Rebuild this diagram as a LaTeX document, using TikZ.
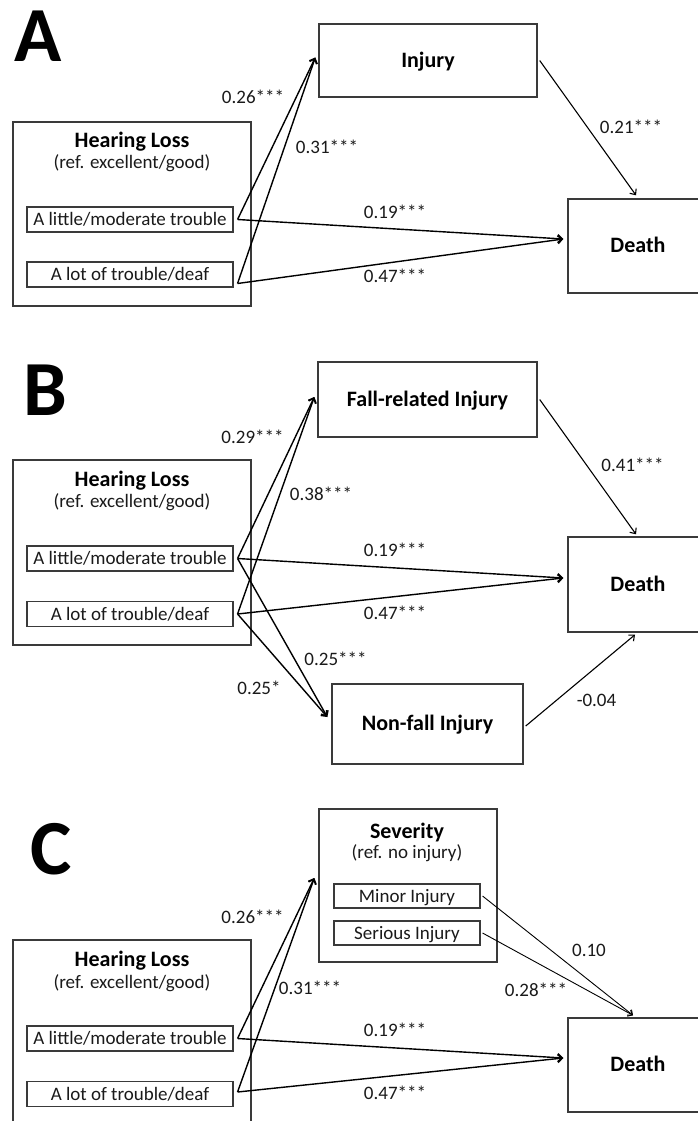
\documentclass[tikz,border=0pt]{standalone}
\usepackage{fontspec}
\setmainfont{Carlito}
\usetikzlibrary{arrows.meta}
\definecolor{boxgray}{HTML}{3A3A3A}
\definecolor{txt}{HTML}{1A1A1A}
\begin{document}
\begin{tikzpicture}[x=1pt,y=-1pt,
  box/.style={draw=boxgray, line width=1.4pt, inner sep=0pt, text=black,
    font=\fontsize{22}{22}\selectfont\bfseries, text height=13.6pt, text depth=0pt},
  sub/.style={draw=boxgray, line width=1.1pt, inner sep=0pt, minimum width=206pt,
    minimum height=25pt, font=\fontsize{19}{19}\selectfont, text height=12.2pt, text depth=0pt, text=txt},
  sev/.style={sub, minimum width=146pt, minimum height=24pt},
  ttl/.style={inner sep=0pt, font=\fontsize{22}{22}\selectfont\bfseries, text height=13.6pt, text depth=0pt},
  ref/.style={inner sep=0pt, font=\fontsize{19}{19}\selectfont, text height=12.2pt, text depth=0pt, text=txt},
  lbl/.style={inner sep=0pt, font=\fontsize{19}{19}\selectfont, text height=12.2pt, text depth=0pt, text=txt},
  big/.style={inner sep=0pt, anchor=base west, font=\fontsize{78}{78}\selectfont\bfseries},
  arr/.style={-{Straight Barb[length=4.5pt,width=8pt]}, line width=1.4pt, black},
  arrthin/.style={-{Straight Barb[length=4.5pt,width=8pt]}, line width=1.1pt, black},
  arrfine/.style={-{Straight Barb[length=4pt,width=7pt]}, line width=0.9pt, black}
]
\useasboundingbox (0,0) rectangle (697,1121);
\fill[white] (0,0) rectangle (697,1121);

% ===================== Panel A =====================
\node[big] (letA) at (14,62) {A};
\node[box, minimum width=238pt, minimum height=184pt] (hlA) at (132,214) {};
\node[ttl] (hlAt) at (132,141) {Hearing Loss};
\node[ref] (hlAr) at (132,162) {(ref. excellent/good)};
\node[sub] (littleA) at (130,219.5) {A little/moderate trouble};
\node[sub] (lotA) at (130,274.5) {A lot of trouble/deaf};
\node[box, minimum width=218pt, minimum height=73pt] (injA) at (428,60.5) {Injury};
\node[box, minimum width=140pt, minimum height=94pt] (deathA) at (638,246) {Death};

\draw[arr] ([xshift=4pt]littleA.east) -- ([xshift=-3pt,yshift=3pt]injA.west);
\draw[arr] ([xshift=4pt,yshift=-9pt]lotA.east) -- ([xshift=-3pt,yshift=3pt]injA.west);
\draw[arr] ([xshift=4pt]littleA.east) -- ([xshift=-4pt,yshift=7pt]deathA.west);
\draw[arr] ([xshift=4pt,yshift=-9pt]lotA.east) -- ([xshift=-4pt,yshift=7pt]deathA.west);
\draw[arrthin] ([xshift=2pt]injA.east) -- ([xshift=-2pt,yshift=3pt]deathA.north);

\node[lbl] (a1) at (253,97) {0.26***};
\node[lbl] (a2) at (327,147) {0.31***};
\node[lbl] (a3) at (631,127) {0.21***};
\node[lbl] (a4) at (395,212) {0.19***};
\node[lbl] (a5) at (395,276) {0.47***};

% ===================== Panel B =====================
\node[big] (letB) at (23,415) {B};
\node[box, minimum width=238pt, minimum height=185pt] (hlB) at (132,552.5) {};
\node[ttl] (hlBt) at (132,480) {Hearing Loss};
\node[ref] (hlBr) at (132,501) {(ref. excellent/good)};
\node[sub] (littleB) at (130,558.5) {A little/moderate trouble};
\node[sub] (lotB) at (130,614) {A lot of trouble/deaf};
\node[box, minimum width=219pt, minimum height=75pt] (fallB) at (427.5,399.5) {Fall-related Injury};
\node[box, minimum width=140pt, minimum height=95pt] (deathB) at (638,584.5) {Death};
\node[box, minimum width=191pt, minimum height=80pt] (nfB) at (427.5,724) {Non-fall Injury};

\draw[arr] ([xshift=4pt]littleB.east) -- ([xshift=-3pt,yshift=2.5pt]fallB.west);
\draw[arr] ([xshift=4pt]lotB.east) -- ([xshift=-3pt,yshift=2.5pt]fallB.west);
\draw[arr] ([xshift=4pt]littleB.east) -- ([xshift=-4pt,yshift=6.5pt]deathB.west);
\draw[arr] ([xshift=4pt]lotB.east) -- ([xshift=-4pt,yshift=6.5pt]deathB.west);
\draw[arr] ([xshift=4pt]littleB.east) -- ([xshift=-4pt,yshift=7pt]nfB.west);
\draw[arr] ([xshift=4pt]lotB.east) -- ([xshift=-4pt,yshift=7pt]nfB.west);
\draw[arrthin] ([xshift=2pt]fallB.east) -- ([xshift=-2pt,yshift=2pt]deathB.north);
\draw[arrthin] ([xshift=2pt,yshift=-2pt]nfB.east) -- ([xshift=-3pt,yshift=-2pt]deathB.south);

\node[lbl] (b1) at (252.5,437) {0.29***};
\node[lbl] (b2) at (321,494) {0.38***};
\node[lbl] (b3) at (335.5,659) {0.25***};
\node[lbl] (b4) at (259,688) {0.25*};
\node[lbl] (b5) at (632.5,465) {0.41***};
\node[lbl] (b6) at (395,550) {0.19***};
\node[lbl] (b7) at (395,613) {0.47***};
\node[lbl] (b8) at (596.5,700) {-0.04};

% ===================== Panel C =====================
\node[big] (letC) at (30,874) {C};
\node[box, minimum width=238pt, minimum height=200pt] (hlC) at (132,1040) {};
\node[ttl] (hlCt) at (132,960) {Hearing Loss};
\node[ref] (hlCr) at (132,982) {(ref. excellent/good)};
\node[sub] (littleC) at (130,1038.5) {A little/moderate trouble};
\node[sub] (lotC) at (130,1094) {A lot of trouble/deaf};
\node[box, minimum width=178pt, minimum height=153pt] (sevC) at (408,885.5) {};
\node[ttl] (sevCt) at (407,832) {Severity};
\node[ref] (sevCr) at (407,852) {(ref. no injury)};
\node[sev] (minorC) at (407,896) {Minor Injury};
\node[sev] (seriousC) at (407,933) {Serious Injury};
\node[box, minimum width=140pt, minimum height=94pt] (deathC) at (638,1065) {Death};

\draw[arr] ([xshift=4pt]littleC.east) -- ([xshift=-4pt,yshift=7.5pt]sevC.west);
\draw[arr] ([xshift=4pt,yshift=2pt]lotC.east) -- ([xshift=-4pt,yshift=7.5pt]sevC.west);
\draw[arr] ([xshift=4pt]littleC.east) -- ([xshift=-4pt,yshift=7pt]deathC.west);
\draw[arr] ([xshift=4pt,yshift=2pt]lotC.east) -- ([xshift=-4pt,yshift=7pt]deathC.west);
\draw[arrfine] ([xshift=2pt]minorC.east) -- ([xshift=-5pt,yshift=2pt]deathC.north);
\draw[arrfine] ([xshift=2pt]seriousC.east) -- ([xshift=-5pt,yshift=2pt]deathC.north);

\node[lbl] (c1) at (252.5,917) {0.26***};
\node[lbl] (c2) at (310,988) {0.31***};
\node[lbl] (c3) at (589,950) {0.10};
\node[lbl] (c4) at (536,990) {0.28***};
\node[lbl] (c5) at (395,1030) {0.19***};
\node[lbl] (c6) at (395,1093) {0.47***};
\end{tikzpicture}
\end{document}
